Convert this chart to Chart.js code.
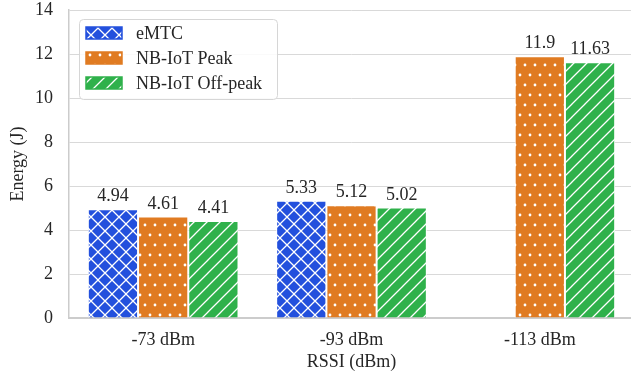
<!DOCTYPE html>
<html>
<head>
<meta charset="utf-8">
<script src="https://cdn.jsdelivr.net/npm/chart.js@4.4.1/dist/chart.umd.min.js"></script>
<style>
  html, body { margin: 0; padding: 0; background: #fff; overflow: hidden; }
  #wrap { width: 634px; height: 377px; }
</style>
</head>
<body>
<div id="wrap"><canvas id="energyChart" width="634" height="377"></canvas></div>
<script>
// ==== data ====
const categories = ["-73 dBm", "-93 dBm", "-113 dBm"];
const seriesNames = ["eMTC", "NB-IoT Peak", "NB-IoT Off-peak"];
const emtcValues = [4.94, 5.33, null];
const nbPeakValues = [4.61, 5.12, 11.9];
const nbOffpeakValues = [4.41, 5.02, 11.63];
const yTicks = [0, 2, 4, 6, 8, 10, 12, 14];

const FONT = "'Liberation Serif', 'Times New Roman', serif";
const FSIZE = 18;
const TEXT = "#262626";
const BLUE = "#2350dd";
const ORANGE = "#e07b22";
const GREEN = "#2fb14b";

// ==== hatch patterns ====
function makeTile(w, h, bg, draw) {
  const c = document.createElement("canvas");
  c.width = w; c.height = h;
  const g = c.getContext("2d");
  g.fillStyle = bg;
  g.fillRect(0, 0, w, h);
  g.strokeStyle = "#ffffff";
  g.fillStyle = "#ffffff";
  g.lineWidth = 1.3;
  draw(g, w, h);
  return document.createElement("canvas").getContext("2d").createPattern(c, "repeat");
}

const crossPattern = makeTile(14, 14, BLUE, (g, w, h) => {
  g.beginPath();
  g.moveTo(-1, -1); g.lineTo(w + 1, h + 1);
  g.moveTo(-1, h + 1); g.lineTo(w + 1, -1);
  g.stroke();
});

const dotPattern = makeTile(10, 20, ORANGE, (g) => {
  [[5, 5], [0, 15], [10, 15]].forEach(([x, y]) => {
    g.beginPath();
    g.arc(x, y, 1.4, 0, Math.PI * 2);
    g.fill();
  });
});

const slashPattern = makeTile(13, 13, GREEN, (g, w, h) => {
  g.beginPath();
  [-w, 0, w].forEach(off => {
    g.moveTo(off - 1, h + 1);
    g.lineTo(off + w + 1, -1);
  });
  g.stroke();
});

const fills = [crossPattern, dotPattern, slashPattern];
const solids = [BLUE, ORANGE, GREEN];

// ==== plugins ====
const valueLabels = {
  id: "valueLabels",
  afterDatasetsDraw(chart) {
    const ctx = chart.ctx;
    ctx.save();
    ctx.font = FSIZE + "px " + FONT;
    ctx.fillStyle = TEXT;
    ctx.textAlign = "center";
    ctx.textBaseline = "alphabetic";
    chart.data.datasets.forEach((ds, di) => {
      const meta = chart.getDatasetMeta(di);
      meta.data.forEach((bar, i) => {
        const v = ds.data[i];
        if (v === null || v === undefined) return;
        ctx.fillText(String(v), bar.x, bar.y - 8);
      });
    });
    ctx.restore();
  }
};

const boxLegend = {
  id: "boxLegend",
  afterDraw(chart) {
    const ctx = chart.ctx;
    const x = 79, y = 19, w = 198, h = 80;
    ctx.save();
    ctx.beginPath();
    ctx.roundRect(x + 0.5, y + 0.5, w, h, 4);
    ctx.fillStyle = "rgba(255,255,255,0.85)";
    ctx.fill();
    ctx.strokeStyle = "#d6d6d6";
    ctx.lineWidth = 1;
    ctx.stroke();
    ctx.font = FSIZE + "px " + FONT;
    ctx.textBaseline = "middle";
    ctx.textAlign = "left";
    chart.data.datasets.forEach((ds, i) => {
      const cy = 33 + i * 25;
      ctx.fillStyle = fills[i];
      ctx.fillRect(86, cy - 6, 36, 12);
      ctx.strokeStyle = solids[i];
      ctx.lineWidth = 1.5;
      ctx.strokeRect(86, cy - 6, 36, 12);
      ctx.fillStyle = TEXT;
      ctx.fillText(ds.label, 136, cy + 1);
    });
    ctx.restore();
  }
};

// ==== chart ====
const barStyle = {
  borderColor: "#ffffff",
  borderWidth: 1,
  categoryPercentage: 0.8,
  barPercentage: 1.0
};

new Chart(document.getElementById("energyChart").getContext("2d"), {
  type: "bar",
  data: {
    labels: categories,
    datasets: [
      { label: seriesNames[0], data: emtcValues, backgroundColor: crossPattern, ...barStyle },
      { label: seriesNames[1], data: nbPeakValues, backgroundColor: dotPattern, ...barStyle },
      { label: seriesNames[2], data: nbOffpeakValues, backgroundColor: slashPattern, ...barStyle }
    ]
  },
  options: {
    responsive: false,
    animation: false,
    layout: { padding: { top: 10, right: 0, bottom: 0, left: 0 } },
    plugins: {
      legend: { display: false },
      tooltip: { enabled: false }
    },
    scales: {
      x: {
        grid: { display: false, drawTicks: false },
        border: { display: true, color: "#cccccc", width: 2 },
        ticks: { color: TEXT, font: { family: FONT, size: FSIZE }, padding: 11 },
        title: { display: true, text: "RSSI (dBm)", color: TEXT, font: { family: FONT, size: FSIZE }, padding: { top: 0, bottom: 4 } },
        afterFit(scale) { scale.height = 59; }
      },
      y: {
        min: 0,
        max: 14,
        afterBuildTicks(scale) { scale.ticks = yTicks.map(v => ({ value: v })); },
        grid: { color: "#d9d9d9", lineWidth: 1, drawTicks: false },
        border: { display: true, color: "#cccccc", width: 1.5 },
        ticks: { color: TEXT, font: { family: FONT, size: FSIZE }, padding: 16 },
        title: { display: true, text: "Energy (J)", color: TEXT, font: { family: FONT, size: FSIZE }, padding: { top: 7, bottom: 0 } },
        afterFit(scale) {
          scale.width = 69;
          scale.paddingTop = 0;
          scale.paddingBottom = 0;
        }
      }
    }
  },
  plugins: [valueLabels, boxLegend]
});
</script>
</body>
</html>
